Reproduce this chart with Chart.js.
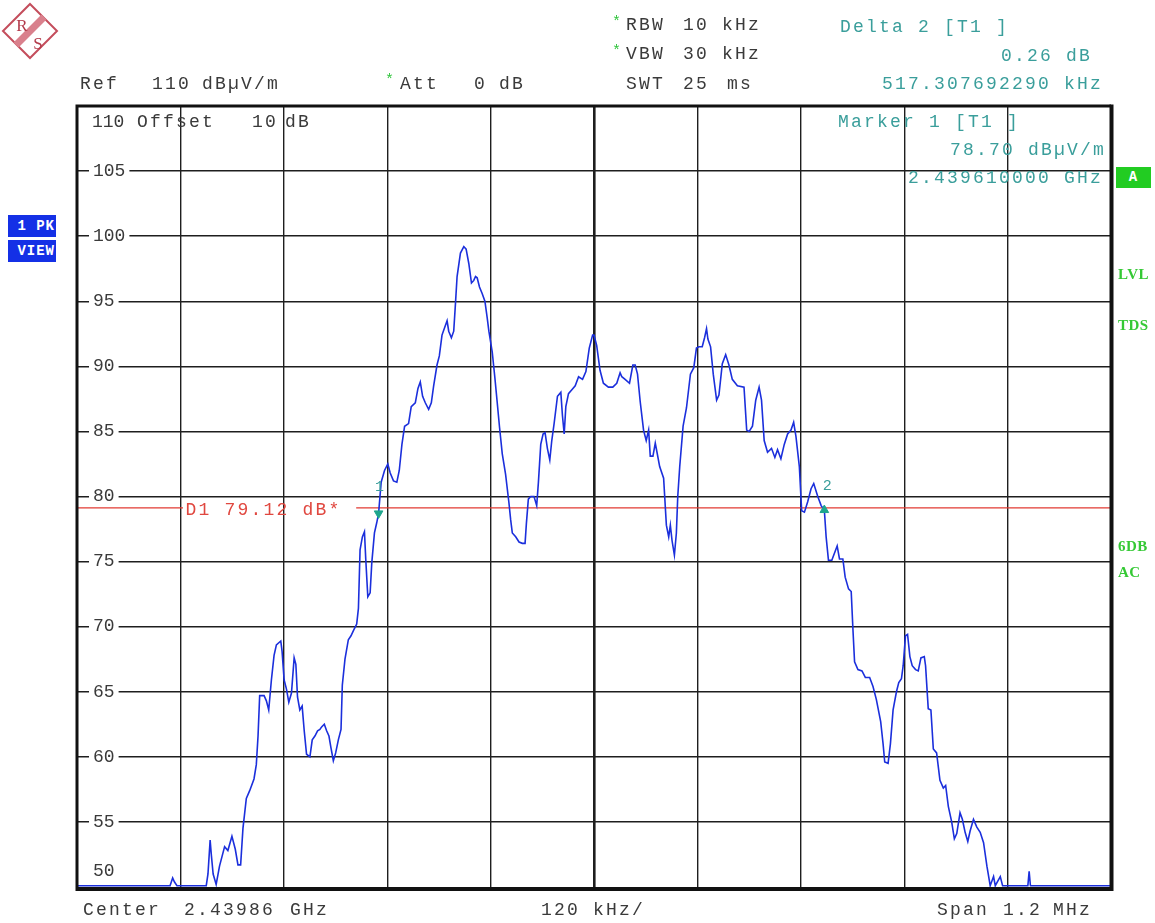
<!DOCTYPE html>
<html>
<head>
<meta charset="utf-8">
<title>Spectrum 2.43986 GHz</title>
<script src="https://cdn.jsdelivr.net/npm/chart.js@4/dist/chart.umd.min.js"></script>
<style>
  html, body { margin: 0; padding: 0; background: #fff; }
  #wrap { position: relative; width: 1155px; height: 923px; overflow: hidden; }
  #c { position: absolute; left: 0; top: 0; }
  .t { position: absolute; font-family: "Liberation Mono", monospace; font-size: 18px; line-height: 18px;
       letter-spacing: 2.2px; white-space: pre; color: #3a3a3a; }
  .teal { color: #3a9e9b; }
  .star { color: #2ec43a; font-size: 15px; letter-spacing: 0; }
  .side { color: #35c935; font-family: "Liberation Serif", serif; font-weight: bold; font-size: 15px; letter-spacing: 0.5px; }
  .box { position: absolute; color: #fff; font-family: "Liberation Mono", monospace; font-weight: bold;
         font-size: 14px; line-height: 22px; letter-spacing: 1px; white-space: pre; }
  .blue { background: #1430e6; }
  .green { background: #22cc22; text-align: center; }
</style>
</head>
<body>
<div id="wrap">
  <canvas id="c" width="1155" height="923"></canvas>
  <svg style="position:absolute;left:0;top:0" width="64" height="64" viewBox="0 0 64 64">
    <polygon points="30,4 57,31 30,58 3,31" fill="#fff" stroke="#c44d5c" stroke-width="2"/>
    <line x1="44" y1="17" x2="16" y2="45" stroke="#d9808c" stroke-width="7"/>
    <text x="22" y="31" text-anchor="middle" font-family="Liberation Serif" font-size="17" fill="#b23a4a">R</text>
    <text x="38" y="49" text-anchor="middle" font-family="Liberation Serif" font-size="17" fill="#b23a4a">S</text>
  </svg>
</div>
<script>
// Sweep settings
const startGHz = 2.43926;          // left edge of the sweep
const spanKHz = 1200;              // 1.2 MHz span
const divisions = 10;
const refLevel = 110;              // dBµV/m
const bottomLevel = 50;

// Trace 1 (peak), frequency offset from sweep start in kHz
const freqKHz = [
  0, 100, 108, 111, 113, 116, 150, 152, 154.5, 156, 158, 161.5, 165.4, 171.3, 175.1, 179.8,
  183.7, 186.8, 189.9, 192.6, 196.5, 200.4, 205.4, 208.1, 210.1, 212.0, 217.1, 219.8, 222.5, 225.6,
  228.7, 231.4, 236.5, 238.0, 240.4, 243.1, 245.8, 248.9, 252.0, 254.0, 255.9, 258.6, 261.3, 263.7,
  266.4, 270.3, 273.0, 276.1, 279.2, 281.9, 283.9, 287.0, 289.7, 292.4, 294.7, 297.5, 300.2, 303.3,
  306.4, 307.9, 311.0, 314.9, 318.0, 320.8, 324.6, 326.6, 328.5, 331.2, 333.6, 335.1, 337.5, 340.2,
  342.1, 345.2, 347.9, 350.0, 353.0, 356.9, 360.7, 363.5, 367.3, 371.2, 374.0, 377.1, 380.2, 384.8,
  387.9, 392.6, 395.7, 398.4, 401.1, 404.2, 408.1, 411.2, 413.9, 417.8, 420.5, 423.6, 426.8, 429.5,
  431.4, 434.5, 437.2, 439.2, 441.1, 445.0, 448.9, 451.6, 454.7, 457.8, 460.5, 462.5, 464.4, 467.1,
  470.2, 473.4, 476.1, 478.0, 481.9, 485.0, 487.7, 490.4, 493.5, 497.4, 501.3, 503.3, 505.2, 509.1,
  513.0, 516.8, 520.0, 521.5, 523.8, 526.5, 530.4, 533.5, 535.5, 538.2, 540.9, 543.2, 545.9, 548.7,
  551.0, 553.7, 557.6, 561.5, 563.4, 565.4, 567.3, 570.4, 574.3, 578.2, 582.1, 586.7, 590.6, 594.5,
  598.4, 600.0, 603.1, 607.0, 610.9, 616.7, 621.8, 626.4, 630.3, 632.3, 636.1, 641.2, 645.1, 647.8,
  650.5, 653.6, 657.5, 660.6, 663.4, 665.3, 668.4, 671.1, 673.1, 676.2, 680.8, 684.0, 686.7, 688.6,
  690.6, 693.3, 695.6, 697.2, 699.5, 703.4, 707.3, 711.9, 715.8, 718.9, 721.7, 725.6, 728.3, 730.6,
  732.2, 735.3, 738.4, 742.3, 745.0, 748.9, 752.8, 756.6, 760.5, 766.4, 774.1, 777.2, 780.0, 783.9,
  787.7, 791.6, 794.4, 797.5, 801.4, 806.0, 809.9, 813.0, 816.9, 820.8, 824.7, 828.6, 831.7, 834.4,
  838.3, 841.0, 844.2, 848.0, 851.9, 855.0, 859.7, 863.6, 867.3077, 869.4, 872.1, 876.0, 879.9, 882.2,
  884.9, 888.8, 891.5, 895.4, 898.5, 900.5, 902.4, 906.3, 911.0, 914.9, 919.9, 923.8, 927.7, 932.7,
  935.5, 937.4, 941.3, 944.0, 947.1, 951.0, 953.7, 956.8, 958.8, 961.5, 963.9, 966.6, 969.3, 973.2,
  976.3, 979.4, 983.3, 984.8, 987.9, 991.0, 993.8, 997.6, 1001.5, 1005.4, 1008.1, 1011.2, 1015.1, 1018.2,
  1021.0, 1024.8, 1027.5, 1030.7, 1033.8, 1036.5, 1040.4, 1044.3, 1048.2, 1052.1, 1056.0, 1059.8, 1063.7, 1065.7,
  1071.5, 1074.2, 1103.5, 1105.0, 1106.5, 1200
];
const levelDb = [
  50.1, 50.1, 50.1, 50.7, 50.4, 50.1, 50.1, 51.0, 53.6, 52.4, 51.0, 50.2, 51.6, 53.1, 52.8, 53.9,
  52.9, 51.7, 51.7, 54.5, 56.8, 57.4, 58.3, 59.4, 61.6, 64.7, 64.7, 64.3, 63.6, 65.9,
  67.8, 68.6, 68.9, 68.1, 65.9, 65.2, 64.2, 64.9, 67.6, 67.1, 64.6, 63.6, 63.9, 62.0,
  60.2, 60.0, 61.3, 61.6, 62.0, 62.1, 62.3, 62.5, 62.0, 61.6, 60.7, 59.7, 60.3, 61.3,
  62.1, 65.5, 67.5, 69.0, 69.3, 69.7, 70.2, 71.4, 75.9, 76.9, 77.3, 75.2, 72.3, 72.6,
  74.9, 77.2, 78.0, 78.7, 81.1, 82.0, 82.5, 81.8, 81.2, 81.1, 82.0, 84.0, 85.4, 85.6,
  86.9, 87.2, 88.3, 88.8, 87.7, 87.2, 86.7, 87.2, 88.5, 90.1, 90.8, 92.4, 93.0, 93.5,
  92.7, 92.2, 92.7, 94.8, 96.9, 98.7, 99.2, 99.0, 97.9, 96.4, 96.6, 96.9, 96.8, 96.1,
  95.6, 95.0, 93.7, 92.7, 91.1, 89.1, 87.2, 85.3, 83.3, 81.7, 79.5, 78.2, 77.2, 76.9,
  76.5, 76.4, 76.4, 77.9, 79.8, 80.0, 80.0, 79.3, 81.1, 84.0, 84.8, 84.9, 83.7, 82.8,
  84.3, 85.6, 87.7, 88.0, 86.2, 84.8, 86.9, 87.9, 88.2, 88.5, 89.2, 89.0, 89.6, 91.4,
  92.4, 92.4, 91.6, 89.7, 88.7, 88.4, 88.4, 88.7, 89.5, 89.2, 89.0, 88.7, 90.1, 90.1,
  89.4, 87.3, 85.1, 84.3, 85.1, 83.1, 83.1, 84.1, 83.4, 82.3, 81.4, 77.8, 76.9, 77.8,
  76.6, 75.5, 77.2, 80.0, 82.3, 85.4, 86.8, 89.4, 89.9, 91.4, 91.5, 91.5, 92.2, 92.9,
  92.1, 91.5, 89.4, 87.4, 87.8, 90.2, 90.9, 90.1, 89.0, 88.5, 88.4, 85.1, 85.0, 85.4,
  87.4, 88.4, 87.4, 84.3, 83.4, 83.7, 83.0, 83.6, 82.9, 84.0, 84.8, 85.1, 85.7, 84.6,
  82.3, 78.9, 78.8, 79.6, 80.6, 81.0, 80.0, 79.3, 78.96, 76.9, 75.1, 75.1, 75.8, 76.2,
  75.2, 75.2, 73.8, 72.9, 72.7, 69.8, 67.3, 66.7, 66.6, 66.1, 66.1, 65.4, 64.4, 62.7,
  61.0, 59.6, 59.5, 61.0, 63.6, 65.0, 65.7, 66.0, 67.0, 69.3, 69.4, 67.7, 67.0, 66.7,
  66.6, 67.6, 67.7, 67.0, 63.7, 63.6, 60.6, 60.3, 58.2, 57.6, 57.8, 56.2, 55.0, 53.7,
  54.1, 55.7, 55.2, 54.2, 53.5, 54.3, 55.2, 54.6, 54.2, 53.4, 51.6, 50.1, 50.8, 50.1,
  50.8, 50.1, 50.1, 51.2, 50.1, 50.1
];

// Markers and display line
const marker1KHz = 350;            // offset of marker 1 from sweep start
const marker1Level = 78.70;
const deltaKHz = 517.30769229;     // delta marker 2 relative to marker 1
const deltaDb = 0.26;
const displayLine = 79.12;         // D1
const displayLineKHz = [0, 123, 200, 324, 1200];   // D1 segments, gap where its label sits
const displayLineOn = [true, true, false, true, true];

const marker2KHz = marker1KHz + deltaKHz;
const marker2Level = +(marker1Level + deltaDb).toFixed(2);

// ---- text around the diagram ----
const wrap = document.getElementById('wrap');
function put(text, x, yc, cls, alignRight) {
  const d = document.createElement('div');
  d.className = 't' + (cls ? ' ' + cls : '');
  d.textContent = text;
  d.style.top = (yc - 9) + 'px';
  if (alignRight) d.style.right = (1155 - x) + 'px'; else d.style.left = x + 'px';
  wrap.appendChild(d);
  return d;
}
const centerGHz = (startGHz * 1e6 + spanKHz / 2) / 1e6;

put('Ref', 80, 84); put(String(refLevel), 152, 84); put('dBµV/m', 202, 84);
put('*', 385, 81, 'star'); put('Att', 400, 84); put('0', 474, 84); put('dB', 499, 84);
put('*', 612, 23, 'star'); put('RBW', 626, 25); put('10', 683, 25); put('kHz', 722, 25);
put('*', 612, 52, 'star'); put('VBW', 626, 54); put('30', 683, 54); put('kHz', 722, 54);
put('SWT', 626, 84); put('25', 683, 84); put('ms', 727, 84);

put('Delta 2 [T1 ]', 840, 27, 'teal');
put(deltaDb.toFixed(2) + ' dB', 1092, 56, 'teal', true);
put(deltaKHz.toFixed(9) + ' kHz', 1103, 84, 'teal', true);
put('Marker 1 [T1 ]', 838, 122, 'teal');
put(marker1Level.toFixed(2) + ' dBµV/m', 1106, 150, 'teal', true);
put(((startGHz * 1e6 + marker1KHz) / 1e6).toFixed(9) + ' GHz', 1103, 178, 'teal', true);

put('Center', 83, 910); put(centerGHz.toFixed(5), 184, 910); put('GHz', 290, 910);
put((spanKHz / divisions) + ' kHz/', 541, 910);
put('Span', 937, 910); put((spanKHz / 1000).toFixed(1), 1003, 910); put('MHz', 1053, 910);

for (const [txt, y] of [['LVL', 274], ['TDS', 325], ['6DB', 546], ['AC', 572]]) {
  put(txt, 1118, y, 'side');
}
function box(txt, x, y, w, h, cls) {
  const d = document.createElement('div');
  d.className = 'box ' + cls;
  d.textContent = txt;
  Object.assign(d.style, { left: x + 'px', top: y + 'px', width: w + 'px', height: h + 'px', lineHeight: h + 'px' });
  wrap.appendChild(d);
}
box(' 1 PK', 8, 215, 48, 22, 'blue');
box(' VIEW', 8, 240, 48, 22, 'blue');
box('A', 1116, 167, 35, 21, 'green');

// ---- diagram ----
const FONT = '"Liberation Mono", monospace';

const overlay = {
  id: 'overlay',
  afterDatasetsDraw(chart) {
    const { ctx, chartArea: a, scales: { x, y } } = chart;
    ctx.save();
    // frame: thin top/left, heavier right and bottom
    ctx.strokeStyle = '#111';
    ctx.lineWidth = 3;
    ctx.beginPath();
    ctx.moveTo(a.left, a.bottom); ctx.lineTo(a.left, a.top); ctx.lineTo(a.right, a.top);
    ctx.stroke();
    ctx.lineWidth = 4;
    ctx.beginPath();
    ctx.moveTo(a.right + 0.5, a.top - 1.5); ctx.lineTo(a.right + 0.5, a.bottom + 4);
    ctx.moveTo(a.left - 1.5, a.bottom + 2); ctx.lineTo(a.right + 2.5, a.bottom + 2);
    ctx.stroke();

    ctx.font = '18px ' + FONT;
    ctx.textBaseline = 'middle';
    ctx.textAlign = 'left';
    // top and bottom level labels
    ctx.fillStyle = '#3a3a3a';
    ctx.letterSpacing = '0px';
    const yTop = y.getPixelForValue(refLevel) + 16;
    ctx.fillText(String(refLevel), a.left + 15, yTop);
    ctx.fillText(String(bottomLevel), a.left + 16, y.getPixelForValue(bottomLevel) - 16);
    ctx.letterSpacing = '2.2px';
    ctx.fillText('Offset', 137, yTop);
    ctx.fillText('10', 252, yTop);
    ctx.fillText('dB', 285, yTop);

    // display line label
    ctx.fillStyle = '#e0473f';
    ctx.fillText('D1 ' + displayLine.toFixed(2) + ' dB*', x.getPixelForValue(126), y.getPixelForValue(displayLine) + 2);

    // marker numbers
    ctx.fillStyle = '#3a9e9b';
    ctx.font = '15px ' + FONT;
    ctx.letterSpacing = '0px';
    ctx.textAlign = 'center';
    ctx.fillText('1', x.getPixelForValue(marker1KHz) + 1, y.getPixelForValue(marker1Level) - 26);
    ctx.fillText('2', x.getPixelForValue(marker2KHz) + 3, y.getPixelForValue(marker2Level) - 24);
    ctx.restore();
  }
};

const ctx = document.getElementById('c').getContext('2d');

new Chart(ctx, {
  type: 'line',
  data: {
    datasets: [
      {
        label: 'Trace 1 PK',
        data: freqKHz.map((f, i) => ({ x: f, y: levelDb[i] })),
        borderColor: '#1b2fdc',
        borderWidth: 1.6,
        pointRadius: 0,
        tension: 0,
        order: 3
      },
      {
        label: 'D1',
        data: displayLineKHz.map((f, i) => ({ x: f, y: displayLineOn[i] ? displayLine : null })),
        borderColor: '#e23b33',
        borderWidth: 1.3,
        pointRadius: 0,
        spanGaps: false,
        order: 4
      },
      {
        label: 'Marker 1',
        data: [{ x: marker1KHz, y: marker1Level }],
        showLine: false,
        pointStyle: 'triangle',
        rotation: 180,
        pointRadius: 5,
        backgroundColor: '#1ea68d',
        borderColor: '#1ea68d',
        order: 1
      },
      {
        label: 'Marker 2',
        data: [{ x: marker2KHz, y: marker2Level }],
        showLine: false,
        pointStyle: 'triangle',
        rotation: 0,
        pointRadius: 5,
        backgroundColor: '#1ea68d',
        borderColor: '#1ea68d',
        order: 1
      }
    ]
  },
  options: {
    responsive: false,
    animation: false,
    events: [],
    layout: { padding: { left: 77, top: 106, right: 44, bottom: 36 } },
    plugins: { legend: { display: false }, tooltip: { enabled: false } },
    scales: {
      x: {
        type: 'linear',
        min: 0,
        max: spanKHz,
        ticks: { display: false, stepSize: spanKHz / divisions },
        grid: {
          color: '#1e1e1e',
          lineWidth: c => (c.tick && c.tick.value === spanKHz / 2 ? 2.6 : 1.4),
          drawTicks: false
        },
        border: { display: false },
        afterFit: s => { s.height = 0; }
      },
      y: {
        type: 'linear',
        min: bottomLevel,
        max: refLevel,
        ticks: {
          stepSize: 5,
          mirror: true,
          padding: 16,
          color: '#3a3a3a',
          font: { family: FONT, size: 18 },
          showLabelBackdrop: true,
          backdropColor: '#ffffff',
          backdropPadding: { top: 1, bottom: 1, left: 4, right: 4 },
          callback: v => (v === refLevel || v === bottomLevel ? null : String(v))
        },
        grid: { color: '#1e1e1e', lineWidth: 1.4, drawTicks: false },
        border: { display: false },
        afterFit: s => { s.width = 0; }
      }
    }
  },
  plugins: [overlay]
});
</script>
</body>
</html>
